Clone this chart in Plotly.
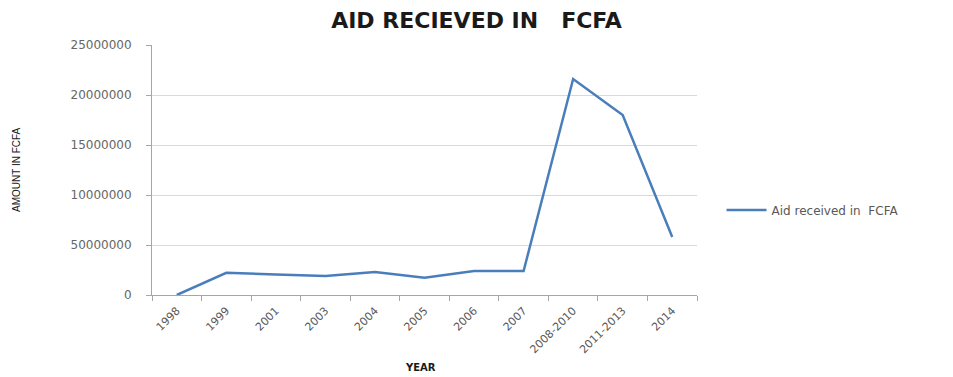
import plotly.graph_objects as go

categories = ["1998", "1999", "2001", "2003", "2004", "2005", "2006", "2007",
              "2008-2010", "2011-2013", "2014"]
aid_values = [0, 2220000, 2060000, 1900000, 2290000, 1730000, 2390000, 2390000,
              21600000, 18000000, 5800000]
y_tick_vals = [0, 5000000, 10000000, 15000000, 20000000, 25000000]
y_tick_text = ["0", "50000000", "10000000", "15000000", "20000000", "25000000"]
series_name = "Aid received in  FCFA"
chart_title = "AID RECIEVED IN   FCFA"

fig = go.Figure()
fig.add_trace(go.Scatter(
    x=categories, y=aid_values, mode="lines", name=series_name,
    line=dict(color="#4A7EBB", width=2.5),
))

fig.update_layout(
    width=953, height=377,
    margin=dict(l=152, r=256, t=45, b=82),
    paper_bgcolor="white", plot_bgcolor="white",
    font=dict(family="DejaVu Sans", color="#595959"),
    title=dict(text="<b>" + chart_title + "</b>", x=0.5, xanchor="center",
               y=1 - 20 / 377, yanchor="middle",
               font=dict(size=22, color="#1a1a1a", family="DejaVu Sans")),
    showlegend=True,
    legend=dict(x=1.045, y=0.34, xanchor="left", yanchor="middle",
                font=dict(size=12, color="#595959"), bgcolor="rgba(0,0,0,0)",
                itemwidth=40),
    xaxis=dict(
        type="category", showgrid=False, showline=True, linecolor="#A6A6A6",
        linewidth=1, ticks="outside", tickson="boundaries", ticklen=5,
        tickcolor="#A6A6A6", tickangle=-45, tickfont=dict(size=11, color="#595959"),
        range=[-0.5, 10.5], ticklabelstandoff=4,
    ),
    yaxis=dict(
        range=[0, 25000000], tickvals=y_tick_vals, ticktext=y_tick_text,
        showgrid=True, gridcolor="#D9D9D9", gridwidth=1, zeroline=False,
        showline=True, linecolor="#A6A6A6", linewidth=1, ticks="outside",
        ticklen=5, tickcolor="#A6A6A6", tickfont=dict(size=12, color="#666666"),
        ticklabelstandoff=12,
    ),
    annotations=[
        dict(text="AMOUNT IN FCFA", textangle=-90, xref="paper", yref="paper",
             x=-(152 - 16) / 545, y=0.5, xanchor="center", yanchor="middle",
             showarrow=False, font=dict(size=10, color="#1a1a1a",
                                        family="Liberation Sans")),
        dict(text="<b>YEAR</b>", xref="paper", yref="paper",
             x=(420 - 152) / 545, y=-(367 - 295) / 250, xanchor="center",
             yanchor="middle", showarrow=False,
             font=dict(size=10, color="#1a1a1a")),
    ],
)

fig.write_html("out.html")
